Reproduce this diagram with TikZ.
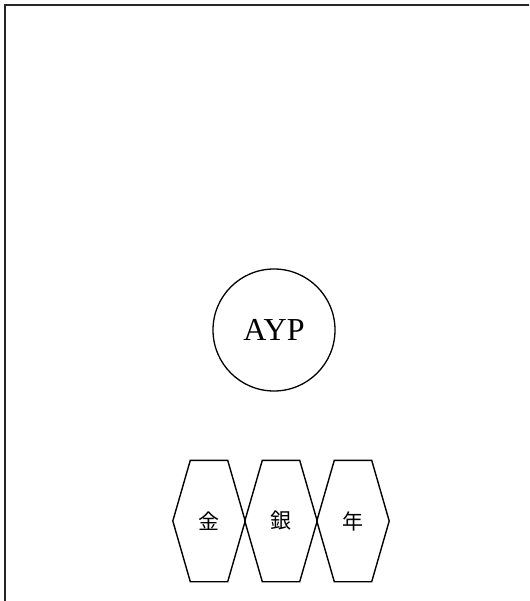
\documentclass[tikz,border=0pt]{standalone}
\usepackage{fontspec}
\setmainfont{Liberation Serif}
\newfontfamily\cjkfont{Noto Sans CJK JP}
\begin{document}
\begin{tikzpicture}[x=1pt,y=-1pt,
  frameline/.style={line width=2pt, draw=black!85},
  hexlabel/.style={draw=none, inner sep=0pt, minimum width=72pt, minimum height=121pt, font=\cjkfont\fontsize{21}{24}\selectfont},
  hexline/.style={line width=1.4pt, line join=miter},
  bigcircle/.style={circle, draw, line width=1.3pt, minimum size=122pt, inner sep=0pt, font=\fontsize{32}{36}\selectfont}
]
\useasboundingbox (0,0) rectangle (529,601);
\clip (0,0) rectangle (529,601);
\coordinate (fbl) at (5.2,620);
\coordinate (ftl) at (5.2,5.2);
\coordinate (ftr) at (540,5.2);
\draw[frameline] (fbl) -- (ftl) -- (ftr);
\node[bigcircle] (c) at (274,330) {AYP};
\foreach \n/\x/\t in {h1/209/金, h2/281/銀, h3/353/年}{
  \node[hexlabel] (\n) at (\x,521) {\t};
  \draw[hexline] (\n.west) -- ([xshift=17.5pt]\n.north west) -- ([xshift=-17.5pt]\n.north east) -- (\n.east) -- ([xshift=-17.5pt]\n.south east) -- ([xshift=17.5pt]\n.south west) -- cycle;
}
\end{tikzpicture}
\end{document}
